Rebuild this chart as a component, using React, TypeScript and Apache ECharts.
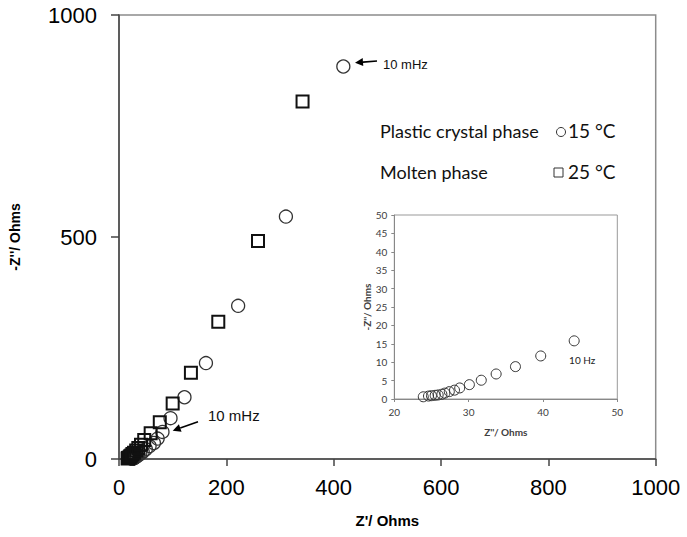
import React, { useEffect, useRef } from "react";
import * as echarts from "echarts";

// 15 °C (plastic crystal phase): Z' and -Z'' in Ohms
const realZ15 = [23.9, 24.6, 25.0, 25.5, 25.9, 26.4, 26.8, 27.4, 28.1, 28.8, 30.1, 31.7, 33.7, 36.3, 39.7, 44.2, 50, 57, 65, 72, 81, 96, 122, 162, 222, 311, 418];
const imagZ15 = [0.6, 0.8, 0.9, 1.0, 1.1, 1.3, 1.6, 2.0, 2.4, 3.0, 3.9, 5.1, 6.8, 8.8, 11.7, 15.8, 22, 29, 36, 46, 61, 92, 139, 216, 345, 546, 884];
// 25 °C (molten phase)
const realZ25 = [16, 17, 18, 20, 21, 23, 25, 28, 32, 36, 41, 47, 59, 76, 100, 134, 185, 259, 342];
const imagZ25 = [1, 2, 3, 4, 6, 8, 11, 14, 19, 25, 32, 43, 58, 83, 125, 194, 309, 491, 805];
// inset: first 16 points of the 15 °C data (high frequency end, up to 10 Hz)
const insetCount = 16;

const mainXTicks = { min: 0, max: 1000, interval: 200 };
const mainYTicks = { min: 0, max: 1000, interval: 500 };
const insetXTicks = { min: 20, max: 50, interval: 10 };
const insetYTicks = { min: 0, max: 50, interval: 5 };

const legendRows = [
  { phase: "Plastic crystal phase", temp: "15 °C", symbol: "circle" },
  { phase: "Molten phase", temp: "25 °C", symbol: "rect" },
];

export default function App() {
  const ref = useRef<HTMLDivElement>(null);
  useEffect(() => {
    if (!ref.current) return;
    const chart = echarts.init(ref.current, null, { renderer: "svg" });
    const pts15 = realZ15.map((x, i) => [x, imagZ15[i]]);
    const pts25 = realZ25.map((x, i) => [x, imagZ25[i]]);
    const inset = pts15.slice(0, insetCount);
    const arial = "'Liberation Sans', Arial, sans-serif";
    const cal = "Lato, Carlito, sans-serif";
    const plain = (v: number) => String(v);

    const legendGraphics: any[] = [];
    legendRows.forEach((r, i) => {
      const y = 134 + i * 41;
      legendGraphics.push({
        type: "text", left: 380, top: y - 12,
        style: { text: r.phase, font: `18px ${cal}`, fill: "#111" },
      });
      if (r.symbol === "circle") {
        legendGraphics.push({ type: "circle", shape: { cx: 561, cy: y - 2, r: 4.5 }, style: { fill: "none", stroke: "#333", lineWidth: 1 } });
      } else {
        legendGraphics.push({ type: "rect", shape: { x: 554, y: y - 7, width: 9, height: 9 }, style: { fill: "none", stroke: "#333", lineWidth: 1 } });
      }
      legendGraphics.push({
        type: "text", left: 568, top: y - 13,
        style: { text: r.temp, font: `19px ${cal}`, fill: "#111" },
      });
    });

    const arrow = (x1: number, y1: number, x2: number, y2: number) => {
      const ang = Math.atan2(y2 - y1, x2 - x1);
      const L = 8, W = 4;
      const bx = x2 - L * Math.cos(ang), by = y2 - L * Math.sin(ang);
      return [
        { type: "line", shape: { x1, y1, x2: bx, y2: by }, style: { stroke: "#000", lineWidth: 1.6 } },
        {
          type: "polygon",
          shape: {
            points: [
              [x2, y2],
              [bx + W * Math.sin(ang), by - W * Math.cos(ang)],
              [bx - W * Math.sin(ang), by + W * Math.cos(ang)],
            ],
          },
          style: { fill: "#000" },
        },
      ];
    };

    chart.setOption({
      animation: false,
      backgroundColor: "#fff",
      grid: [
        { left: 116, top: 15, right: 31.3, bottom: 78, show: true, borderColor: "#8c8c8c", borderWidth: 1.5 },
        { left: 394.3, top: 215, right: 69.7, bottom: 138, show: true, borderColor: "#999", borderWidth: 1 },
      ],
      xAxis: [
        {
          gridIndex: 0, type: "value", ...mainXTicks,
          splitLine: { show: false },
          axisLine: { onZero: false, lineStyle: { color: "#444", width: 1.5 } },
          axisTick: { show: true, inside: false, length: 7, lineStyle: { color: "#444", width: 1.5 } },
          axisLabel: { fontSize: 22, fontFamily: arial, color: "#000", margin: 17, formatter: plain },
          name: "Z'/ Ohms", nameLocation: "middle", nameGap: 54,
          nameTextStyle: { fontSize: 15, fontWeight: "bold", fontFamily: arial, color: "#000" },
        },
        {
          gridIndex: 1, type: "value", ...insetXTicks,
          splitLine: { show: false },
          axisLine: { onZero: false, lineStyle: { color: "#888", width: 1 } },
          axisTick: { show: true, length: 3, lineStyle: { color: "#888" } },
          axisLabel: { fontSize: 10, fontFamily: cal, color: "#404040", margin: 8, formatter: plain },
          name: "Z''/ Ohms", nameLocation: "middle", nameGap: 28,
          nameTextStyle: { fontSize: 10, fontWeight: "bold", fontFamily: cal, color: "#404040" },
        },
      ],
      yAxis: [
        {
          gridIndex: 0, type: "value", ...mainYTicks,
          splitLine: { show: false },
          axisLine: { onZero: false, lineStyle: { color: "#444", width: 1.5 } },
          axisTick: { show: true, inside: false, length: 8, lineStyle: { color: "#444", width: 1.5 } },
          axisLabel: { fontSize: 22, fontFamily: arial, color: "#000", margin: 22, formatter: plain },
          name: "-Z''/ Ohms", nameLocation: "middle", nameGap: 97,
          nameTextStyle: { fontSize: 14, fontWeight: "bold", fontFamily: arial, color: "#000" },
        },
        {
          gridIndex: 1, type: "value", ...insetYTicks,
          splitLine: { show: false },
          axisLine: { onZero: false, lineStyle: { color: "#888", width: 1 } },
          axisTick: { show: true, length: 3, lineStyle: { color: "#888" } },
          axisLabel: { fontSize: 10, fontFamily: cal, color: "#404040", margin: 7, formatter: plain },
          name: "-Z''/ Ohms", nameLocation: "middle", nameGap: 20,
          nameTextStyle: { fontSize: 10, fontWeight: "bold", fontFamily: cal, color: "#404040" },
        },
      ],
      series: [
        {
          type: "scatter", name: "15 °C", xAxisIndex: 0, yAxisIndex: 0, data: pts15,
          symbol: "circle", symbolSize: 13,
          itemStyle: { color: "rgba(0,0,0,0)", borderColor: "#333", borderWidth: 1.3, opacity: 1 },
        },
        {
          type: "scatter", name: "25 °C", xAxisIndex: 0, yAxisIndex: 0, data: pts25,
          symbol: "rect", symbolSize: 12,
          itemStyle: { color: "rgba(0,0,0,0)", borderColor: "#111", borderWidth: 2, opacity: 1 },
        },
        {
          type: "scatter", name: "inset", xAxisIndex: 1, yAxisIndex: 1, data: inset,
          symbol: "circle", symbolSize: 10,
          itemStyle: { color: "rgba(0,0,0,0)", borderColor: "#333", borderWidth: 1, opacity: 1 },
          label: {
            show: true, position: "bottom", distance: 9, offset: [8, 0],
            formatter: (p: any) => (p.dataIndex === insetCount - 1 ? "10 Hz" : ""),
            fontSize: 10, fontFamily: cal, color: "#222",
          },
        },
      ],
      graphic: [
        ...legendGraphics,
        ...arrow(377, 61, 355, 62.7),
        { type: "text", left: 383, top: 58, style: { text: "10 mHz", font: `13px ${arial}`, fill: "#111" } },
        ...arrow(198, 421.7, 172.7, 430.7),
        { type: "text", left: 208, top: 408, style: { text: "10 mHz", font: `15px ${arial}`, fill: "#111" } },
      ],
    });
    return () => chart.dispose();
  }, []);
  return <div ref={ref} style={{ position: "fixed", left: 0, top: 0, width: 687, height: 537 }} />;
}
